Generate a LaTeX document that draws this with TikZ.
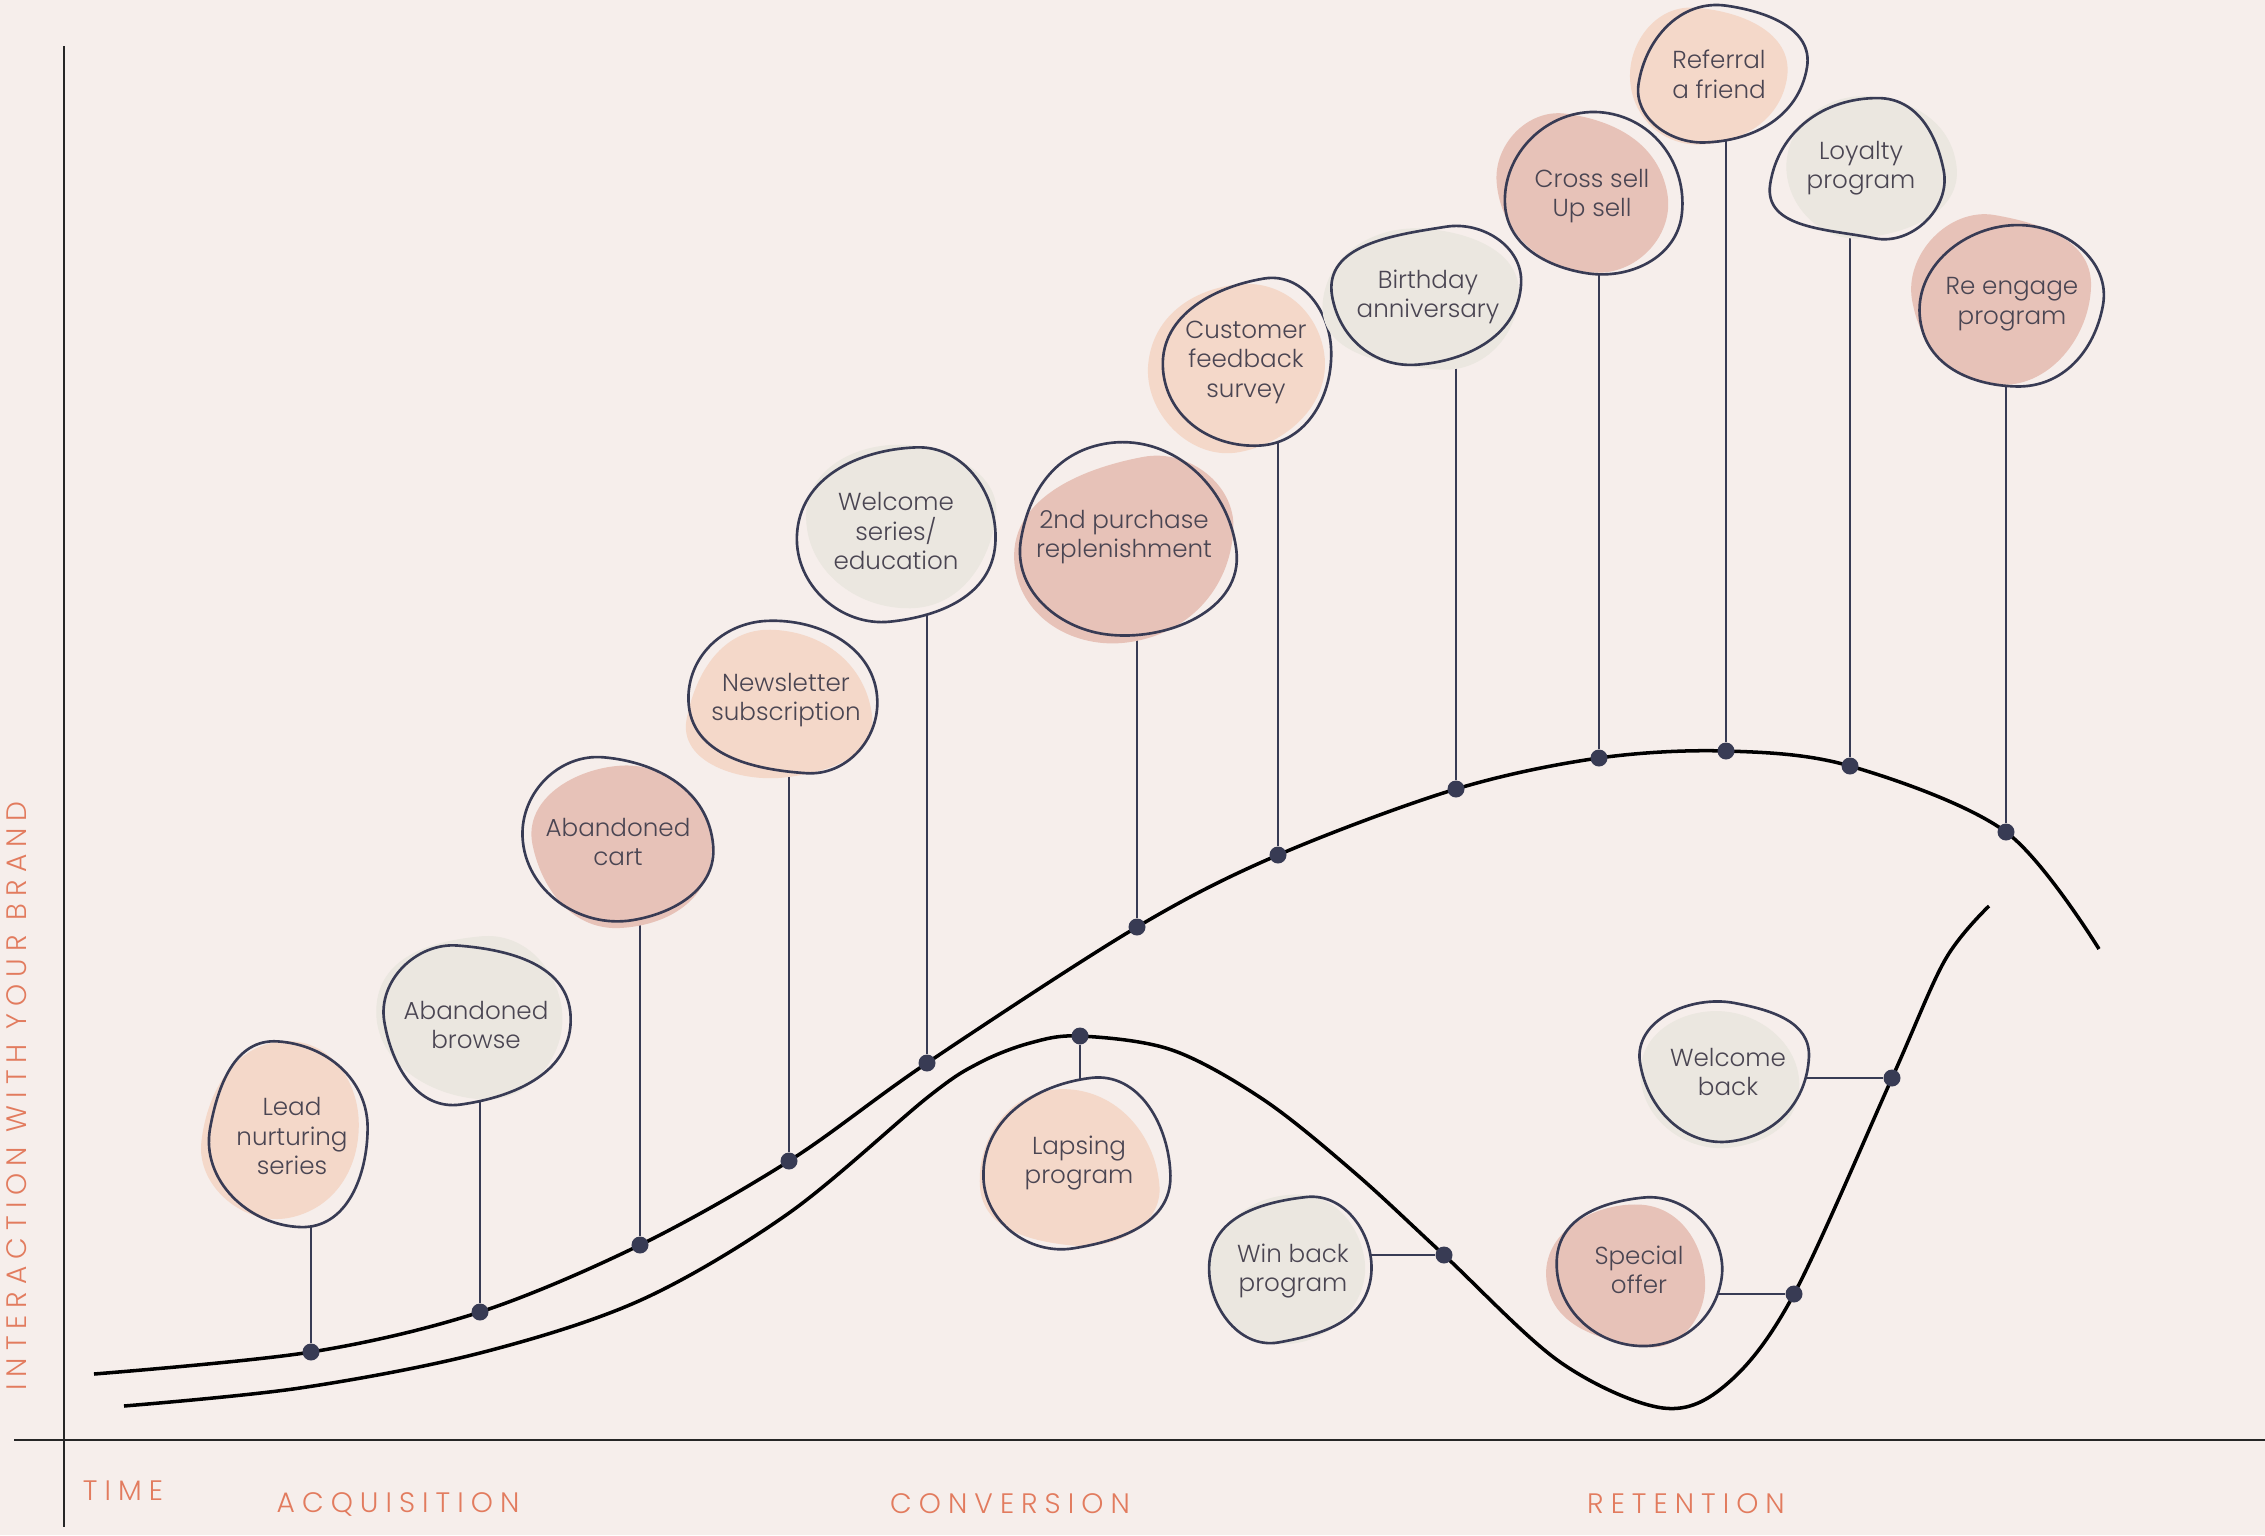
\documentclass[tikz,border=0pt]{standalone}
\usepackage{fontspec}
\setmainfont{Poppins Light}
\newfontfamily\axisfont{Poppins Light}[LetterSpace=25]
\usepackage{xcolor}
\usepackage{tikz}
\usetikzlibrary{positioning}

\definecolor{paper}{HTML}{F6EEEB}
\definecolor{peach}{HTML}{F4D8C9}
\definecolor{rose}{HTML}{E7C2B8}
\definecolor{stone}{HTML}{EBE7E0}
\definecolor{navy}{HTML}{383B54}
\definecolor{inktext}{HTML}{4A4552}
\definecolor{coral}{HTML}{E27B5E}

\pgfdeclarelayer{back}
\pgfdeclarelayer{mid}
\pgfsetlayers{back,mid,main}

% irregular blob: seed, x radius, y radius
\newcommand\setblob[3]{%
  \pgfmathsetseed{#1}%
  \pgfmathsetmacro\rE{#2*(1+0.06*rand)}%
  \pgfmathsetmacro\rW{#2*(1+0.06*rand)}%
  \pgfmathsetmacro\rS{#3*(1+0.06*rand)}%
  \pgfmathsetmacro\rN{#3*(1+0.06*rand)}%
  \pgfmathsetmacro\dE{0.22*#3*rand}%
  \pgfmathsetmacro\dW{0.22*#3*rand}%
  \pgfmathsetmacro\dS{0.22*#2*rand}%
  \pgfmathsetmacro\dN{0.22*#2*rand}%
  \pgfmathsetmacro\oE{270+12*rand}\pgfmathsetmacro\iE{\oE-180}%
  \pgfmathsetmacro\oS{180+12*rand}\pgfmathsetmacro\iS{\oS-180}%
  \pgfmathsetmacro\oW{90+12*rand}\pgfmathsetmacro\iW{\oW+180}%
  \pgfmathsetmacro\oN{12*rand}\pgfmathsetmacro\iN{\oN+180}%
}
\newcommand\blobpath{(\rE,\dE) to[out=\oE,in=\iS] (\dS,\rS) to[out=\oS,in=\iW] (-\rW,\dW) to[out=\oW,in=\iN] (\dN,-\rN) to[out=\oN,in=\iE] (\rE,\dE) -- cycle}

\begin{document}
\begin{tikzpicture}[
    x=0.01cm, y=-0.01cm,
    bubble/.style={align=center, text=inktext, font=\fontsize{7}{8.4}\selectfont, inner sep=0pt},
    dot/.style={circle, fill=navy, inner sep=0pt, minimum size=0.17cm},
    axislabel/.style={text=coral, font=\axisfont\fontsize{8}{9}\selectfont, inner sep=0pt},
    axis/.style={line width=0.7pt, black!85},
    curve/.style={line width=1pt, black},
    stem/.style={line width=0.6pt, navy},
    rim/.style={line width=0.75pt, navy}
]
\useasboundingbox (0,0) rectangle (2265,1535);
\begin{pgfonlayer}{back}
\fill[paper] (0,0) rectangle (2265,1535);
\end{pgfonlayer}

% Axes
\coordinate (ytop) at (64,46);
\coordinate (ybot) at (64,1527);
\coordinate (xleft) at (14,1440);
\coordinate (xright) at (2265,1440);
\draw[axis] (ytop) -- (ybot);
\draw[axis] (xleft) -- (xright);

\node[axislabel] (time) at (123,1491) {TIME};
\node[axislabel] (acq) at (398,1504) {ACQUISITION};
\node[axislabel] (conv) at (1010,1504) {CONVERSION};
\node[axislabel] (ret) at (1686,1504) {RETENTION};
\node[axislabel, rotate=90] (brand) at (17,1096) {INTERACTION WITH YOUR BRAND};

% Touch points on the main curve
\node[dot] (d1) at (311,1352) {};
\node[dot] (d2) at (480,1312) {};
\node[dot] (d3) at (640,1245) {};
\node[dot] (d4) at (789,1161) {};
\node[dot] (d5) at (927,1063) {};
\node[dot] (d6) at (1137,927) {};
\node[dot] (d7) at (1278,855) {};
\node[dot] (d8) at (1456,789) {};
\node[dot] (d9) at (1599,758) {};
\node[dot] (d10) at (1726,751) {};
\node[dot] (d11) at (1850,766) {};
\node[dot] (d12) at (2006,832) {};

% Touch points on the lapsing curve
\node[dot] (l1) at (1080,1036) {};
\node[dot] (l2) at (1444,1255) {};
\node[dot] (l3) at (1794,1294) {};
\node[dot] (l4) at (1892,1078) {};

% Programs
\node[bubble] (lead) at (292,1136) {Lead\\nurturing\\series};
\node[bubble] (browse) at (476,1025) {Abandoned\\browse};
\node[bubble] (cart) at (618,842) {Abandoned\\cart};
\node[bubble] (news) at (786,700) {Newsletter\\subscription};
\node[bubble] (welcome) at (896,531) {Welcome\\series/\\education};
\node[bubble] (second) at (1124,537) {2nd purchase\\replenishment};
\node[bubble] (survey) at (1246,362) {Customer\\feedback\\survey};
\node[bubble] (birthday) at (1428,297) {Birthday\\anniversary};
\node[bubble] (cross) at (1592,196) {Cross sell\\Up sell};
\node[bubble] (referral) at (1719,74) {Referral\\a friend};
\node[bubble] (loyalty) at (1861,168) {Loyalty\\program};
\node[bubble] (reengage) at (2012,304) {Re engage\\program};
\node[bubble] (lapse) at (1079,1163) {Lapsing\\program};
\node[bubble] (winback) at (1293,1271) {Win back\\program};
\node[bubble] (special) at (1639,1270) {Special\\offer};
\node[bubble] (wback) at (1728,1072) {Welcome\\back};

% Curves and stems
\begin{pgfonlayer}{back}
\draw[curve] plot[smooth, tension=0.55] coordinates {(94,1374) (d1.center) (d2.center) (d3.center) (d4.center) (d5.center) (d6.center) (d7.center) (d8.center) (d9.center) (d10.center) (d11.center) (d12.center) (2099,949)};
\draw[curve] plot[smooth, tension=0.55] coordinates {(124,1406) (300,1388) (480,1353) (641,1300) (789,1213) (928,1097) (979,1063) (1030,1043) (l1.center) (1172,1050) (1264,1100) (1355,1173) (l2.center) (1560,1362) (1663,1408) (1728,1383) (l3.center) (l4.center) (1945,960) (1989,906)};

\draw[stem] (d1) -- (d1 |- lead.center);
\draw[stem] (d2) -- (d2 |- browse.center);
\draw[stem] (d3) -- (d3 |- cart.center);
\draw[stem] (d4) -- (d4 |- news.center);
\draw[stem] (d5) -- (d5 |- welcome.center);
\draw[stem] (d6) -- (d6 |- second.center);
\draw[stem] (d7) -- (d7 |- survey.center);
\draw[stem] (d8) -- (d8 |- birthday.center);
\draw[stem] (d9) -- (d9 |- cross.center);
\draw[stem] (d10) -- (d10 |- referral.center);
\draw[stem] (d11) -- (d11 |- loyalty.center);
\draw[stem] (d12) -- (d12 |- reengage.center);
\draw[stem] (l1) -- (l1 |- lapse.center);
\draw[stem] (l2) -- (l2 -| winback.center);
\draw[stem] (l3) -- (l3 -| special.center);
\draw[stem] (l4) -- (l4 -| wback.center);
\end{pgfonlayer}

% Blobs behind the programs
\begin{pgfonlayer}{mid}
\foreach \nm/\ra/\rb/\col/\sd/\ox/\oy in {
    lead/80/91/peach/3/-14/-5, browse/92/84/stone/5/-6/-4, cart/92/81/rose/8/9/6,
    news/95/75/peach/12/-9/6, welcome/95/87/stone/14/6/-4, second/107/99/rose/17/0/12,
    survey/87/84/peach/21/-9/4, birthday/99/72/stone/23/-6/0, cross/91/81/rose/27/-11/-2,
    referral/85/71/peach/31/-10/4, loyalty/86/72/stone/35/9/0, reengage/94/83/rose/38/-8/-6,
    lapse/94/81/peach/41/-10/8, winback/79/75/stone/44/-8/0, special/84/75/rose/47/-11/3,
    wback/85/71/stone/52/-9/6}{
  \pgfmathtruncatemacro\fsd{\sd*7+13}
  \setblob{\sd}{\ra}{\rb}
  \fill[paper, shift={(\nm.center)}] \blobpath;
  \setblob{\fsd}{0.97*\ra}{0.97*\rb}
  \fill[\col, shift={(\nm.center)}, shift={(\ox,\oy)}] \blobpath;
  \setblob{\sd}{\ra}{\rb}
  \draw[rim, shift={(\nm.center)}] \blobpath;
}
\end{pgfonlayer}

\end{tikzpicture}
\end{document}
